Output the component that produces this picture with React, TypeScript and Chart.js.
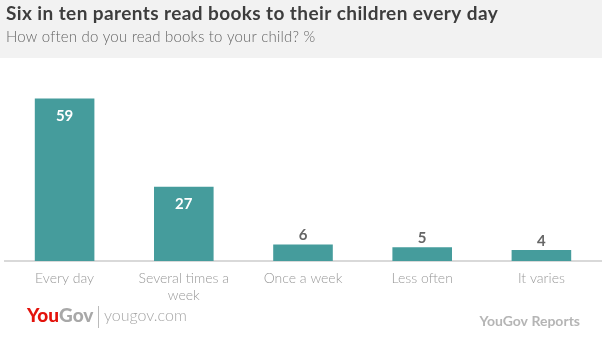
import React, { useEffect, useRef } from "react";
import { Chart, registerables } from "chart.js";

Chart.register(...registerables);

const TITLE = "Six in ten parents read books to their children every day";
const SUBTITLE = "How often do you read books to your child? %";
const categories: (string | string[])[] = [
  "Every day",
  ["Several times a", "week"],
  "Once a week",
  "Less often",
  "It varies",
];
const values = [59, 27, 6, 5, 4];

const BAR = "#459c9c";

const decor = {
  id: "decor",
  beforeDraw(chart: any) {
    const ctx = chart.ctx;
    ctx.save();
    ctx.fillStyle = "#ffffff";
    ctx.fillRect(0, 0, chart.width, chart.height);
    ctx.fillStyle = "#f2f2f2";
    ctx.fillRect(0, 0, chart.width, 58);
    ctx.textBaseline = "middle";
    ctx.textAlign = "left";
    ctx.fillStyle = "#3d3d3d";
    ctx.font = "bold 19px Lato";
    (ctx as any).letterSpacing = "0.4px";
    ctx.fillText(TITLE, 6, 14);
    ctx.fillStyle = "#666666";
    ctx.font = "300 15px Lato";
    (ctx as any).letterSpacing = "0.2px";
    ctx.fillText(SUBTITLE, 6, 37);
    (ctx as any).letterSpacing = "0px";
    // footer
    ctx.font = "900 19px Lato";
    ctx.fillStyle = "#e3120b";
    ctx.fillText("You", 27, 316);
    const w = ctx.measureText("You").width;
    ctx.fillStyle = "#a8a8a8";
    ctx.fillText("Gov", 27 + w, 316);
    ctx.strokeStyle = "#bbbbbb";
    ctx.lineWidth = 1;
    ctx.beginPath();
    ctx.moveTo(98.5, 306);
    ctx.lineTo(98.5, 328);
    ctx.stroke();
    ctx.fillStyle = "#a6a6a6";
    ctx.font = "300 16px Lato";
    ctx.fillText("yougov.com", 104, 316);
    ctx.font = "bold 14px Lato";
    ctx.fillStyle = "#b5b5b5";
    ctx.textAlign = "right";
    ctx.fillText("YouGov Reports", 580, 321);
    ctx.restore();
  },
  afterDatasetsDraw(chart: any) {
    const ctx = chart.ctx;
    const meta = chart.getDatasetMeta(0);
    ctx.save();
    ctx.textAlign = "center";
    ctx.textBaseline = "middle";
    ctx.font = "bold 15px Lato";
    meta.data.forEach((bar: any, i: number) => {
      const v = values[i];
      const h = bar.base - bar.y;
      if (h > 30) {
        ctx.fillStyle = "#ffffff";
        ctx.fillText(String(v), bar.x, bar.y + 18);
      } else {
        ctx.fillStyle = "#666666";
        ctx.fillText(String(v), bar.x, bar.y - 9);
      }
    });
    ctx.restore();
  },
};

export default function App() {
  const ref = useRef<HTMLCanvasElement>(null);
  useEffect(() => {
    document.body.style.margin = "0";
    const chart = new Chart(ref.current!, {
      type: "bar",
      data: {
        labels: categories,
        datasets: [
          {
            data: values,
            backgroundColor: BAR,
            borderWidth: 0,
            barPercentage: 0.5,
            categoryPercentage: 1,
          },
        ],
      },
      options: {
        responsive: false,
        animation: false,
        layout: { padding: { top: 82, left: 5, right: 1, bottom: 0 } },
        plugins: {
          legend: { display: false },
          tooltip: { enabled: false },
          title: { display: false },
        },
        scales: {
          y: {
            display: false,
            min: 0,
            max: 65,
          },
          x: {
            grid: { display: false, drawTicks: false },
            border: { display: true, color: "#d9d9d9", width: 2 },
            ticks: {
              color: "#999999",
              font: { family: "Lato", size: 14, weight: "300" as any },
              padding: 9,
              maxRotation: 0,
              autoSkip: false,
            },
            afterFit(scale: any) {
              scale.height = 79;
            },
          },
        },
      },
      plugins: [decor],
    });
    return () => chart.destroy();
  }, []);
  return <canvas ref={ref} width={602} height={340} style={{ display: "block" }} />;
}
